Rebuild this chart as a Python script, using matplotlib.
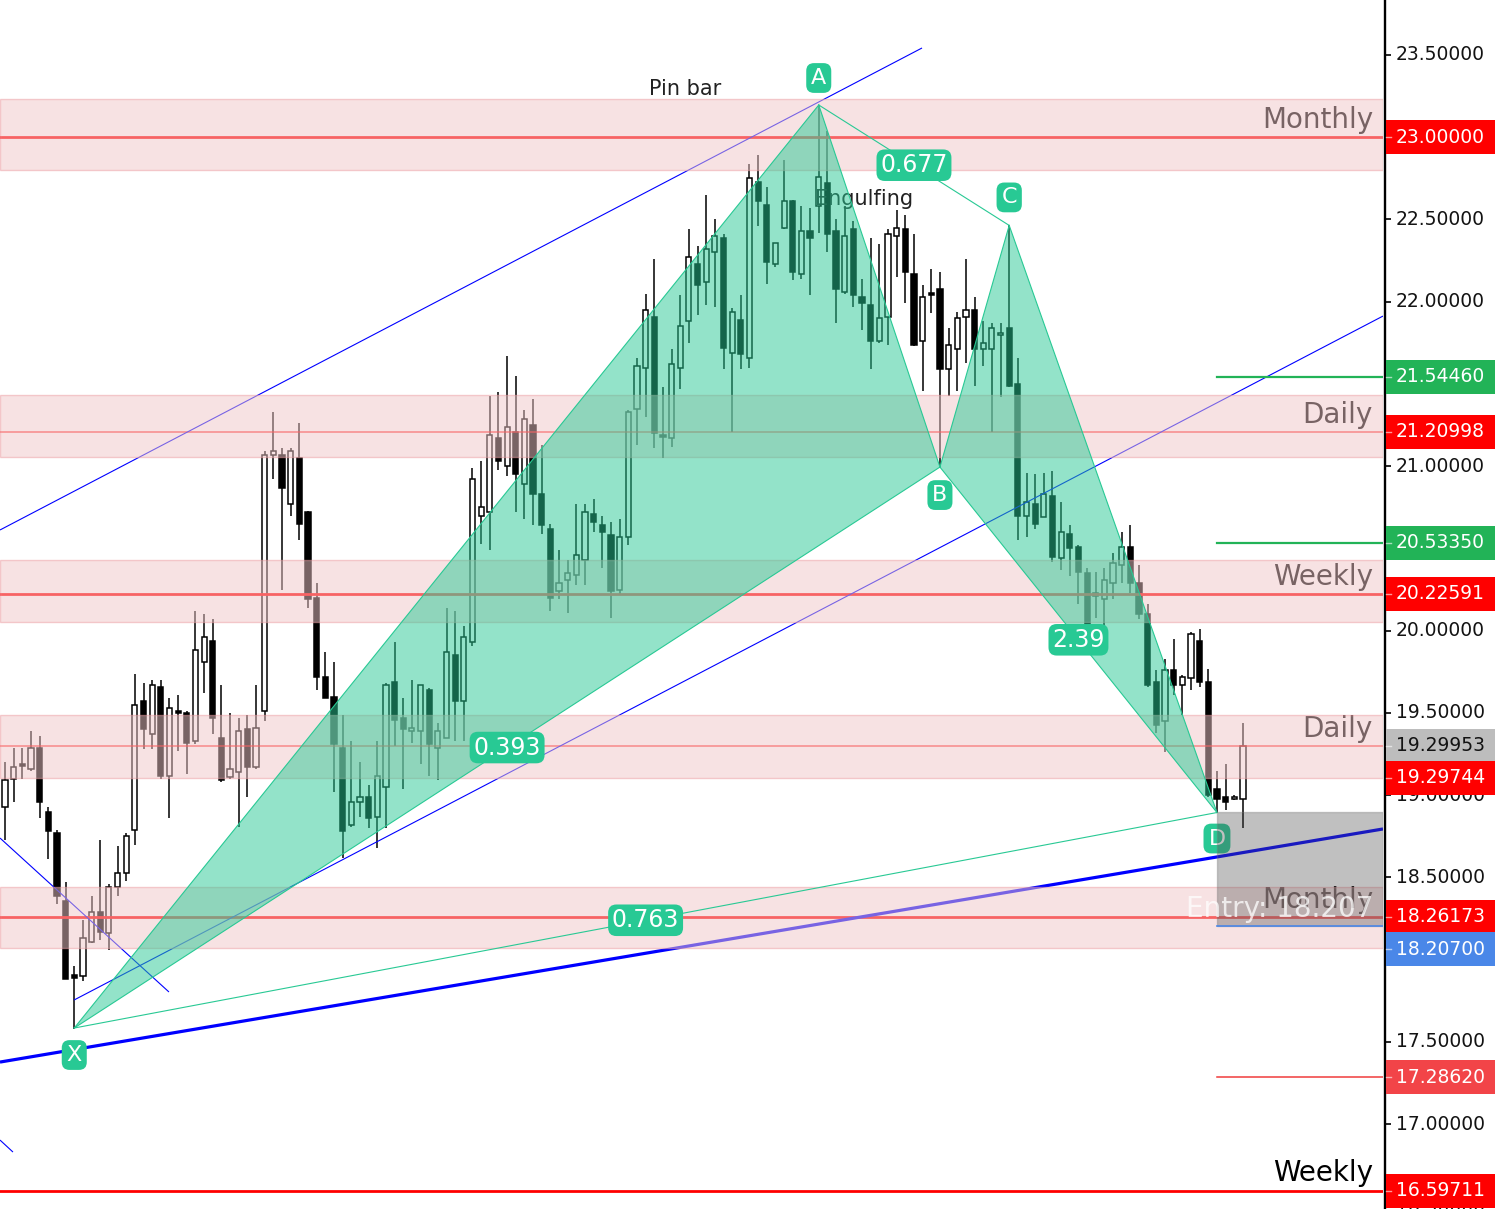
import matplotlib
matplotlib.use('Agg')
import matplotlib.pyplot as plt
from matplotlib.patches import Rectangle
import numpy as np

# ---------------- data ----------------
opens = [18.93, 19.10, 19.19, 19.16, 19.29, 18.90, 18.77, 18.36, 17.91, 17.90,
         18.11, 18.29, 18.16, 18.44, 18.53, 18.79, 19.57, 19.37, 19.66, 19.12,
         19.51, 19.50, 19.33, 19.81, 19.94, 19.35, 19.11, 19.14, 19.40, 19.17,
         19.51, 21.07, 21.07, 20.77, 21.05, 20.72, 20.20, 19.72, 19.60, 19.29,
         18.82, 18.96, 18.99, 18.87, 19.05, 19.69, 19.47, 19.39, 19.39, 19.64,
         19.29, 19.35, 19.85, 19.57, 19.93, 20.70, 20.72, 21.17, 21.00, 21.21,
         20.89, 21.25, 20.83, 20.62, 20.24, 20.31, 20.34, 20.43, 20.71, 20.64,
         20.58, 20.25, 20.57, 21.35, 21.60, 21.91, 21.19, 21.17, 21.60, 21.88,
         22.23, 22.12, 22.30, 22.39, 21.69, 21.89, 21.66, 22.73, 22.59, 22.23,
         22.45, 22.61, 22.17, 22.43, 22.58, 22.72, 22.43, 22.06, 22.44, 22.03,
         21.98, 21.76, 21.91, 22.40, 22.44, 22.17, 21.76, 22.05, 22.08, 21.59,
         21.71, 21.91, 21.95, 21.71, 21.71, 21.80, 21.84, 21.50, 20.70, 20.77,
         20.69, 20.82, 20.44, 20.59, 20.51, 20.35, 20.21, 20.19, 20.29, 20.40,
         20.51, 20.29, 20.10, 19.69, 19.45, 19.76, 19.67, 19.71, 19.94, 19.69,
         19.04, 18.99, 18.98, 18.975]
highs = [19.20, 19.29, 19.29, 19.39, 19.36, 18.93, 18.79, 18.47, 17.96, 18.24,
         18.39, 18.73, 18.46, 18.69, 18.77, 19.74, 19.68, 19.70, 19.70, 19.59,
         19.61, 19.51, 20.12, 20.10, 20.07, 19.67, 19.50, 19.47, 19.49, 19.67,
         21.09, 21.33, 21.11, 21.11, 21.26, 20.73, 20.29, 19.87, 19.81, 19.49,
         19.33, 19.20, 19.06, 19.33, 19.68, 19.93, 19.59, 19.70, 19.67, 19.65,
         19.44, 20.14, 20.12, 20.03, 20.99, 21.03, 21.43, 21.45, 21.67, 21.55,
         21.34, 21.41, 21.13, 20.65, 20.49, 20.43, 20.77, 20.77, 20.80, 20.70,
         20.66, 20.68, 21.34, 21.66, 22.05, 22.26, 21.48, 21.71, 22.04, 22.44,
         22.34, 22.65, 22.50, 22.41, 21.96, 22.04, 22.84, 22.89, 22.70, 22.36,
         22.86, 22.62, 22.58, 22.57, 23.196, 23.04, 22.50, 22.58, 22.49, 22.14,
         22.39, 22.35, 22.44, 22.56, 22.53, 22.41, 22.10, 22.20, 22.18, 21.84,
         21.94, 22.26, 22.03, 21.88, 21.87, 21.87, 22.464, 21.66, 20.96, 20.95,
         20.96, 20.97, 20.78, 20.64, 20.52, 20.38, 20.36, 20.38, 20.47, 20.60,
         20.64, 20.40, 20.16, 19.76, 19.83, 19.95, 19.73, 19.99, 20.01, 19.77,
         19.15, 19.19, 19.00, 19.44]
lows = [18.73, 18.96, 19.10, 19.15, 18.86, 18.61, 18.34, 17.88, 17.58, 17.87,
        18.10, 18.12, 18.06, 18.39, 18.48, 18.70, 19.28, 19.28, 19.10, 18.86,
        19.27, 19.13, 19.31, 19.62, 19.37, 19.08, 19.10, 18.81, 18.99, 19.16,
        19.45, 20.92, 20.25, 20.70, 20.55, 20.14, 19.64, 19.59, 19.02, 18.62,
        18.81, 18.87, 18.80, 18.68, 18.80, 19.30, 19.04, 19.32, 19.19, 19.12,
        19.09, 19.35, 19.33, 19.33, 19.91, 20.53, 20.49, 20.98, 20.94, 20.72,
        20.68, 20.64, 20.59, 20.12, 20.19, 20.11, 20.28, 20.28, 20.60, 20.38,
        20.08, 20.22, 20.52, 21.13, 21.30, 21.11, 21.05, 21.12, 21.47, 21.75,
        21.92, 21.98, 21.97, 21.59, 21.21, 21.59, 21.60, 22.46, 22.11, 22.21,
        22.44, 22.13, 22.14, 22.04, 22.42, 22.30, 21.87, 22.05, 21.97, 21.83,
        21.59, 21.75, 21.74, 22.15, 21.99, 21.73, 21.46, 21.93, 20.99, 21.43,
        21.46, 21.63, 21.49, 21.61, 21.21, 21.42, 21.48, 20.55, 20.57, 20.62,
        20.69, 20.42, 20.37, 20.33, 20.16, 20.00, 20.08, 20.00, 20.19, 20.29,
        20.23, 20.07, 19.66, 19.38, 19.26, 19.61, 19.49, 19.64, 19.66, 18.99,
        18.895, 18.91, 18.97, 18.80]
closes = [19.09, 19.17, 19.18, 19.29, 18.96, 18.78, 18.39, 17.88, 17.89, 18.13,
          18.29, 18.17, 18.44, 18.53, 18.75, 19.55, 19.40, 19.67, 19.12, 19.53,
          19.50, 19.32, 19.88, 19.96, 19.47, 19.09, 19.16, 19.39, 19.17, 19.41,
          21.07, 21.09, 20.87, 21.09, 20.65, 20.19, 19.72, 19.59, 19.31, 18.78,
          18.96, 18.99, 18.86, 19.12, 19.67, 19.46, 19.40, 19.41, 19.67, 19.31,
          19.39, 19.87, 19.57, 19.96, 20.92, 20.75, 21.19, 21.03, 21.24, 20.95,
          21.29, 20.83, 20.64, 20.20, 20.29, 20.35, 20.46, 20.72, 20.66, 20.60,
          20.24, 20.57, 21.33, 21.61, 21.95, 21.20, 21.18, 21.62, 21.85, 22.27,
          22.10, 22.32, 22.40, 21.72, 21.94, 21.68, 22.75, 22.61, 22.24, 22.36,
          22.61, 22.18, 22.43, 22.39, 22.76, 22.41, 22.08, 22.40, 22.04, 21.99,
          21.76, 21.90, 22.41, 22.45, 22.18, 21.74, 22.03, 22.04, 21.59, 21.74,
          21.90, 21.95, 21.71, 21.75, 21.84, 21.81, 21.49, 20.70, 20.78, 20.65,
          20.83, 20.45, 20.60, 20.50, 20.36, 20.01, 20.23, 20.31, 20.41, 20.51,
          20.29, 20.10, 19.67, 19.43, 19.76, 19.67, 19.72, 19.98, 19.69, 19.00,
          18.98, 18.96, 18.98, 19.29953]

zone_levels = [23.0, 21.20998, 20.22591, 19.29744, 18.26173]
zone_lows = [22.800, 21.056, 20.053, 19.105, 18.071]
zone_highs = [23.233, 21.433, 20.430, 19.488, 18.442]
zone_names = ['Monthly', 'Daily', 'Weekly', 'Daily', 'Monthly']
weekly_level = 16.59711
weekly_name = 'Weekly'

pattern_names = ['X', 'A', 'B', 'C', 'D']
pattern_idx = [8, 94, 108, 116, 140]
pattern_price = [17.585, 23.196, 20.995, 22.464, 18.895]
ratio_labels = ['0.393', '0.677', '2.39', '0.763']

# trend lines: (idx0, price0, idx1, price1)
channel_upper = [-0.58, 20.6125, 105.93, 23.5426]
channel_lower = [7.97, 17.755, 159.18, 21.913]
thick_line = [-0.58, 17.378, 159.18, 18.795]
desc_line = [-0.58, 18.74, 18.94, 17.804]
tiny_line = [-0.58, 16.904, 0.92, 16.831]

entry_price = 18.207
box_top = 18.90
target_levels = [21.5446, 20.5335]
stop_level = 17.2862
last_price = 19.29953
axis_ticks = [16.5, 17.0, 17.5, 18.0, 18.5, 19.0, 19.5, 20.0, 20.5, 21.0,
              21.5, 22.0, 22.5, 23.0, 23.5]
covered_ticks = [18.0, 20.5, 21.5, 23.0]

# ---------------- figure ----------------
W, H = 1495, 1209
fig = plt.figure(figsize=(W / 100, H / 100), dpi=100, facecolor='white')
axw = 1383 / W
ax = fig.add_axes([0, 0, axw, 1])
ax.set_facecolor('white')
XMIN, XMAX = -0.578, 159.18
YMIN, YMAX = 16.4848, 23.8343
ax.set_xlim(XMIN, XMAX)
ax.set_ylim(YMIN, YMAX)
ax.axis('off')

GREEN = '#28c994'
n = len(opens)
xs = np.arange(n)
o = np.array(opens); c = np.array(closes)
h = np.array(highs); l = np.array(lows)

# candles
ax.vlines(xs, l, h, colors='black', linewidth=1.1, zorder=2)
up = c >= o
bottoms = np.minimum(o, c)
heights = np.maximum(np.abs(c - o), 0.012)
ax.bar(xs[up], heights[up], bottom=bottoms[up], width=0.6, color='white',
       edgecolor='black', linewidth=1.1, zorder=2.5)
ax.bar(xs[~up], heights[~up], bottom=bottoms[~up], width=0.6, color='black',
       edgecolor='black', linewidth=1.1, zorder=2.5)

# zone center lines, labels, zones
label_x = (1373 - 5) / 8.657
for lev, lo, hi, name in zip(zone_levels, zone_lows, zone_highs, zone_names):
    if name == 'Daily':
        ax.axhline(lev, color='red', lw=1.3, alpha=0.6, zorder=3)
    else:
        ax.axhline(lev, color='red', lw=2.0, zorder=3)
    ax.text(label_x, lev + 0.055, name, ha='right', va='baseline',
            fontsize=20, color='black', zorder=3)
    ax.axhspan(lo, hi, facecolor=(0.945, 0.78, 0.79), alpha=0.5,
               edgecolor=(0.93, 0.62, 0.64), linewidth=1.0, zorder=4)

ax.axhline(weekly_level, color='red', lw=2.0, zorder=3)
ax.text(label_x, weekly_level + 0.055, weekly_name, ha='right', va='baseline',
        fontsize=20, color='black', zorder=3)

# blue lines
for seg, lw in [(channel_upper, 0.8), (channel_lower, 0.8), (thick_line, 2.3),
                (desc_line, 0.8), (tiny_line, 0.8)]:
    ax.plot([seg[0], seg[2]], [seg[1], seg[3]], color='#0000ff', lw=lw,
            zorder=3, solid_capstyle='butt')

# text under pattern
ax.text((864 - 5) / 8.657, 22.625, 'Engulfing', ha='center', va='center',
        fontsize=15, color='#222222', zorder=3)
ax.text((685 - 5) / 8.657, 23.293, 'Pin bar', ha='center', va='center',
        fontsize=15, color='#222222', zorder=9)

# harmonic pattern
P = {nm: (i, p) for nm, i, p in zip(pattern_names, pattern_idx, pattern_price)}
for tri in [('X', 'A', 'B'), ('B', 'C', 'D')]:
    ax.fill([P[k][0] for k in tri], [P[k][1] for k in tri], color=GREEN,
            alpha=0.5, lw=0, zorder=5)
for a, b in [('X', 'A'), ('A', 'B'), ('B', 'X'), ('B', 'C'), ('C', 'D'),
             ('D', 'B'), ('A', 'C'), ('X', 'D')]:
    ax.plot([P[a][0], P[b][0]], [P[a][1], P[b][1]], color=GREEN, lw=0.8,
            zorder=6)

for lab, (a, b) in zip(ratio_labels, [('X', 'B'), ('A', 'C'), ('B', 'D'), ('X', 'D')]):
    mx = (P[a][0] + P[b][0]) / 2
    my = (P[a][1] + P[b][1]) / 2
    ax.text(mx, my, lab, ha='center', va='center', fontsize=17, color='white',
            zorder=7, bbox=dict(boxstyle='round,pad=0.16,rounding_size=0.35',
                                fc=GREEN, ec='none'))

offsets = {'X': -27, 'A': 27, 'B': -28, 'C': 28, 'D': -26}
for nm in pattern_names:
    ax.annotate(nm, xy=P[nm], xytext=(0, offsets[nm]), textcoords='offset pixels',
                ha='center', va='center', fontsize=16, color='white', zorder=7,
                bbox=dict(boxstyle='round,pad=0.22,rounding_size=0.35',
                          fc=GREEN, ec='none'))

# position tool
x0 = pattern_idx[4]
for lev in target_levels:
    ax.plot([x0, XMAX], [lev, lev], color='#22b357', lw=1.6, zorder=3)
ax.plot([x0, XMAX], [stop_level, stop_level], color='#f03c3c', lw=1.1, zorder=3)
ax.add_patch(Rectangle((x0, entry_price), XMAX - x0, box_top - entry_price,
                       facecolor=(0.3, 0.3, 0.3), alpha=0.35,
                       edgecolor=(0.45, 0.45, 0.45), lw=1.0, zorder=8))
ax.plot([x0, XMAX], [entry_price, entry_price], color='#4a87e8', lw=1.2, zorder=8)
ax.text(label_x, 18.258, 'Entry: 18.207', ha='right', va='baseline',
        fontsize=20, color='white', alpha=0.75, zorder=9)

# ---------------- price axis ----------------
pax = fig.add_axes([axw, 0, 1 - axw, 1])
pax.set_xlim(0, 112)
pax.set_ylim(YMIN, YMAX)
pax.axis('off')
pax.axvline(2, color='black', lw=1.7, zorder=2)
pax.hlines(axis_ticks, 2, 8, colors='black', lw=1.2, zorder=2)
for t in axis_ticks:
    if t in covered_ticks:
        continue
    pax.text(13, t, f'{t:.5f}', ha='left', va='center', fontsize=13.5,
             color='#131313', zorder=2)

bh = 34 / 164.5
price_labels = [
    (zone_levels[0], zone_levels[0], '#ff0000', 'white'),
    (target_levels[0], target_levels[0], '#22b357', 'white'),
    (zone_levels[1], zone_levels[1], '#ff0000', 'white'),
    (target_levels[1], target_levels[1], '#22b357', 'white'),
    (zone_levels[2], zone_levels[2], '#ff0000', 'white'),
    (last_price, last_price, '#bdbdbd', '#131313'),
    (zone_levels[3], zone_levels[3] - 0.19, '#ff0000', 'white'),
    (zone_levels[4], zone_levels[4], '#ff0000', 'white'),
    (entry_price, entry_price - 0.142, '#4a87e8', 'white'),
    (stop_level, stop_level, '#f24448', 'white'),
    (weekly_level, weekly_level, '#ff0000', 'white'),
]
for val, yc, bg, fg in price_labels:
    pax.add_patch(Rectangle((3, yc - bh / 2), 112, bh, facecolor=bg,
                            edgecolor='none', zorder=5))
    pax.plot([3, 8], [yc, yc], color='white', alpha=0.6, lw=1.0, zorder=6)
    pax.text(13, yc, f'{val:.5f}', ha='left', va='center', fontsize=13.5,
             color=fg, zorder=6)

fig.savefig('out.png', dpi=100, facecolor='white')
